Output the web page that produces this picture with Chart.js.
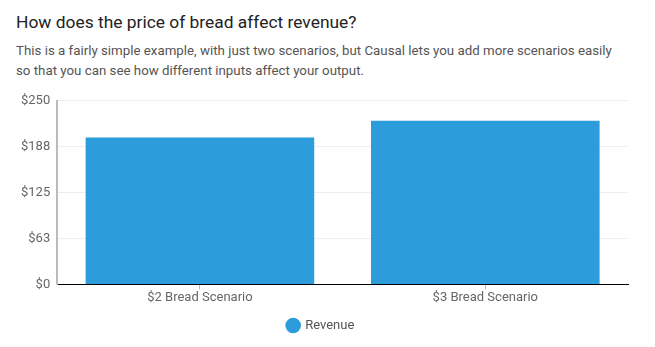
<!DOCTYPE html>
<html>
<head>
<meta charset="utf-8">
<script src="https://cdn.jsdelivr.net/npm/chart.js@4"></script>
<style>
  html, body { margin: 0; padding: 0; background: #fff; width: 655px; height: 347px; overflow: hidden; font-family: Roboto, sans-serif; }
  #title { position: absolute; left: 16px; top: 12px; font-size: 17.4px; color: #222; white-space: nowrap; }
  #sub { position: absolute; left: 16px; top: 41px; font-size: 13.3px; line-height: 20px; color: #555; width: 640px; }
  #wrap { position: absolute; left: 0; top: 86px; width: 655px; height: 261px; }
</style>
</head>
<body>
<div id="title">How does the price of bread affect revenue?</div>
<div id="sub">This is a fairly simple example, with just two scenarios, but Causal lets you add more scenarios easily<br>so that you can see how different inputs affect your output.</div>
<div id="wrap"><canvas id="c"></canvas></div>
<script>
const categories = ["$2 Bread Scenario", "$3 Bread Scenario"];
const seriesName = "Revenue";
const revenue = [200, 223];
const yTicks = [0, 62.5, 125, 187.5, 250];

Chart.defaults.font.family = "Roboto, sans-serif";
Chart.defaults.font.size = 13;
Chart.defaults.color = "#666";

new Chart(document.getElementById('c'), {
  type: 'bar',
  data: {
    labels: categories,
    datasets: [{
      label: seriesName,
      data: revenue,
      backgroundColor: '#2d9cdb',
      borderWidth: 0,
      barPercentage: 0.9,
      categoryPercentage: 0.89
    }]
  },
  options: {
    responsive: true,
    maintainAspectRatio: false,
    animation: false,
    layout: { padding: { left: 14, right: 27, top: 7, bottom: 5 } },
    plugins: {
      legend: {
        position: 'bottom',
        labels: { usePointStyle: true, pointStyle: 'circle', boxWidth: 11, boxHeight: 11, color: '#555', padding: 12 }
      },
      tooltip: { enabled: false }
    },
    scales: {
      x: {
        grid: { display: true, drawOnChartArea: false, drawTicks: true, tickLength: 5, offset: false, color: '#bbb' },
        border: { display: true, color: '#000', width: 1 },
        ticks: { color: '#666', padding: 1 }
      },
      y: {
        min: 0,
        max: 250,
        afterBuildTicks: (axis) => { axis.ticks = yTicks.map(v => ({ value: v })); },
        grid: { color: '#eee', drawTicks: false },
        border: { display: true, color: '#bbb', width: 2 },
        ticks: {
          color: '#666',
          padding: 7,
          callback: (v) => '$' + Math.round(v)
        }
      }
    }
  }
});
</script>
</body>
</html>
